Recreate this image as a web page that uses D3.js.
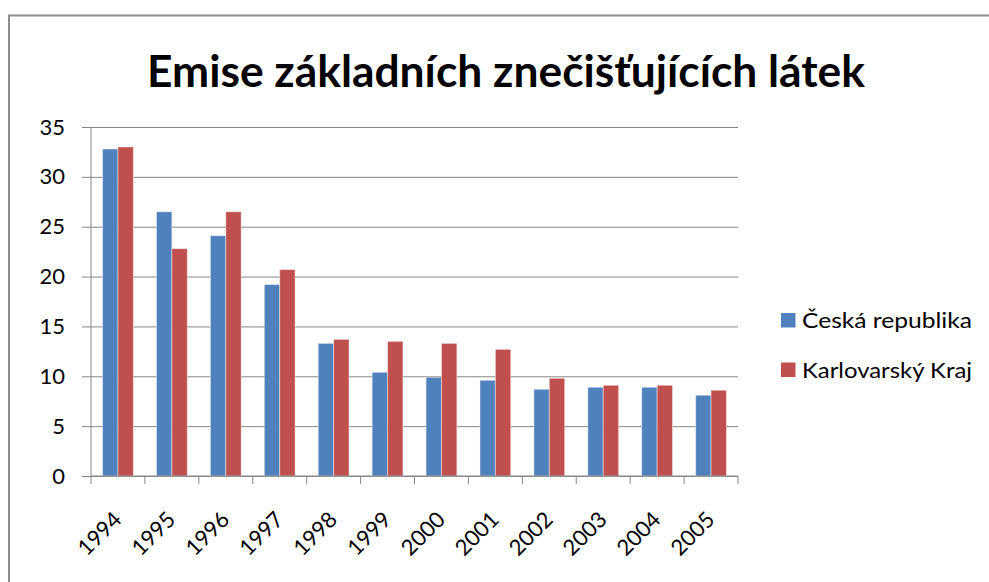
<!DOCTYPE html>
<html>
<head>
<meta charset="utf-8">
<script src="https://cdn.jsdelivr.net/npm/d3@7"></script>
<style>
  html, body { margin: 0; padding: 0; background: #fff; }
  svg { display: block; }
  text { font-family: Lato, "Open Sans", sans-serif; fill: #000; }
</style>
</head>
<body>
<div id="chart"></div>
<script>
// Chart data
const years = ['1994', '1995', '1996', '1997', '1998', '1999', '2000', '2001', '2002', '2003', '2004', '2005'];
const ceskaRepublika = [32.8, 26.5, 24.1, 19.2, 13.3, 10.4, 9.9, 9.6, 8.7, 8.9, 8.9, 8.1];
const karlovarskyKraj = [33.0, 22.8, 26.5, 20.7, 13.7, 13.5, 13.3, 12.7, 9.8, 9.1, 9.1, 8.6];
const seriesNames = ['Česká republika', 'Karlovarský Kraj'];
const yTicks = [0, 5, 10, 15, 20, 25, 30, 35];
const title = 'Emise základních znečišťujících látek';

const colors = ['#4F81BD', '#C0504D'];
const width = 989, height = 582;
const plot = { left: 91, right: 738, top: 127, bottom: 476 };

const svg = d3.select('#chart').append('svg')
  .attr('width', width)
  .attr('height', height);

// Outer chart border (runs off the right and bottom of the picture)
svg.append('rect')
  .attr('x', 9).attr('y', 15.5)
  .attr('width', 1000).attr('height', 600)
  .attr('fill', 'none')
  .attr('stroke', '#8c8c8c')
  .attr('stroke-width', 2);

// Title
svg.append('text')
  .attr('x', 506).attr('y', 87)
  .attr('text-anchor', 'middle')
  .attr('font-size', 43)
  .attr('font-weight', 'bold')
  .attr('textLength', 718)
  .attr('lengthAdjust', 'spacingAndGlyphs')
  .text(title);

// Scales
const x0 = d3.scaleBand()
  .domain(years)
  .range([plot.left, plot.right]);

const x1 = d3.scaleBand()
  .domain(seriesNames)
  .range([0, x0.bandwidth()])
  .paddingInner(0)
  .paddingOuter(0.75);

const y = d3.scaleLinear()
  .domain([0, 35])
  .range([plot.bottom, plot.top]);

// Horizontal gridlines with ticks + labels on the y axis
const yAxis = svg.append('g')
  .attr('transform', `translate(${plot.left},0)`)
  .call(d3.axisLeft(y).tickValues(yTicks).tickSize(9).tickPadding(17)
    .tickSizeOuter(0));
yAxis.select('.domain').remove();
yAxis.selectAll('.tick line')
  .attr('x2', plot.right - plot.left)
  .attr('x1', -9)
  .attr('stroke', '#868686');
yAxis.selectAll('.tick text')
  .attr('font-size', 22)
  .attr('font-family', 'Lato, sans-serif')
  .attr('fill', '#000');

// Vertical axis line
svg.append('line')
  .attr('x1', plot.left).attr('x2', plot.left)
  .attr('y1', plot.top).attr('y2', plot.bottom)
  .attr('stroke', '#868686');

// Bars
const groups = svg.append('g').selectAll('g')
  .data(years)
  .join('g')
  .attr('transform', d => `translate(${x0(d)},0)`);

groups.selectAll('rect')
  .data((d, i) => [
    { name: seriesNames[0], value: ceskaRepublika[i], c: 0 },
    { name: seriesNames[1], value: karlovarskyKraj[i], c: 1 }
  ])
  .join('rect')
  .attr('x', d => x1(d.name))
  .attr('y', d => y(d.value))
  .attr('width', x1.bandwidth())
  .attr('height', d => y(0) - y(d.value))
  .attr('fill', d => colors[d.c])
  .attr('stroke', '#ffffff')
  .attr('stroke-opacity', 0.45)
  .attr('stroke-width', 1);

// Category axis: line, ticks at band boundaries, rotated labels
svg.append('line')
  .attr('x1', plot.left).attr('x2', plot.right)
  .attr('y1', plot.bottom).attr('y2', plot.bottom)
  .attr('stroke', '#868686');

const boundaries = years.map(d => x0(d)).concat([x0(years[years.length - 1]) + x0.bandwidth()]);
svg.append('g').selectAll('line')
  .data(boundaries)
  .join('line')
  .attr('x1', d => d).attr('x2', d => d)
  .attr('y1', plot.bottom).attr('y2', plot.bottom + 8)
  .attr('stroke', '#868686');

svg.append('g').selectAll('text')
  .data(years)
  .join('text')
  .attr('text-anchor', 'end')
  .attr('font-size', 22)
  .attr('transform', d => `translate(${x0(d) + x0.bandwidth() / 2 + 5},${plot.bottom + 45}) rotate(-45)`)
  .text(d => d);

// Legend
const legend = svg.append('g')
  .attr('transform', 'translate(781,313)');

const legendItems = legend.selectAll('g')
  .data(seriesNames)
  .join('g')
  .attr('transform', (d, i) => `translate(0,${i * 49.5})`);

legendItems.append('rect')
  .attr('width', 14.5)
  .attr('height', 14.5)
  .attr('fill', (d, i) => colors[i]);

legendItems.append('text')
  .attr('x', 21)
  .attr('y', 15)
  .attr('font-size', 22)
  .attr('textLength', 170)
  .attr('lengthAdjust', 'spacingAndGlyphs')
  .text(d => d);
</script>
</body>
</html>
